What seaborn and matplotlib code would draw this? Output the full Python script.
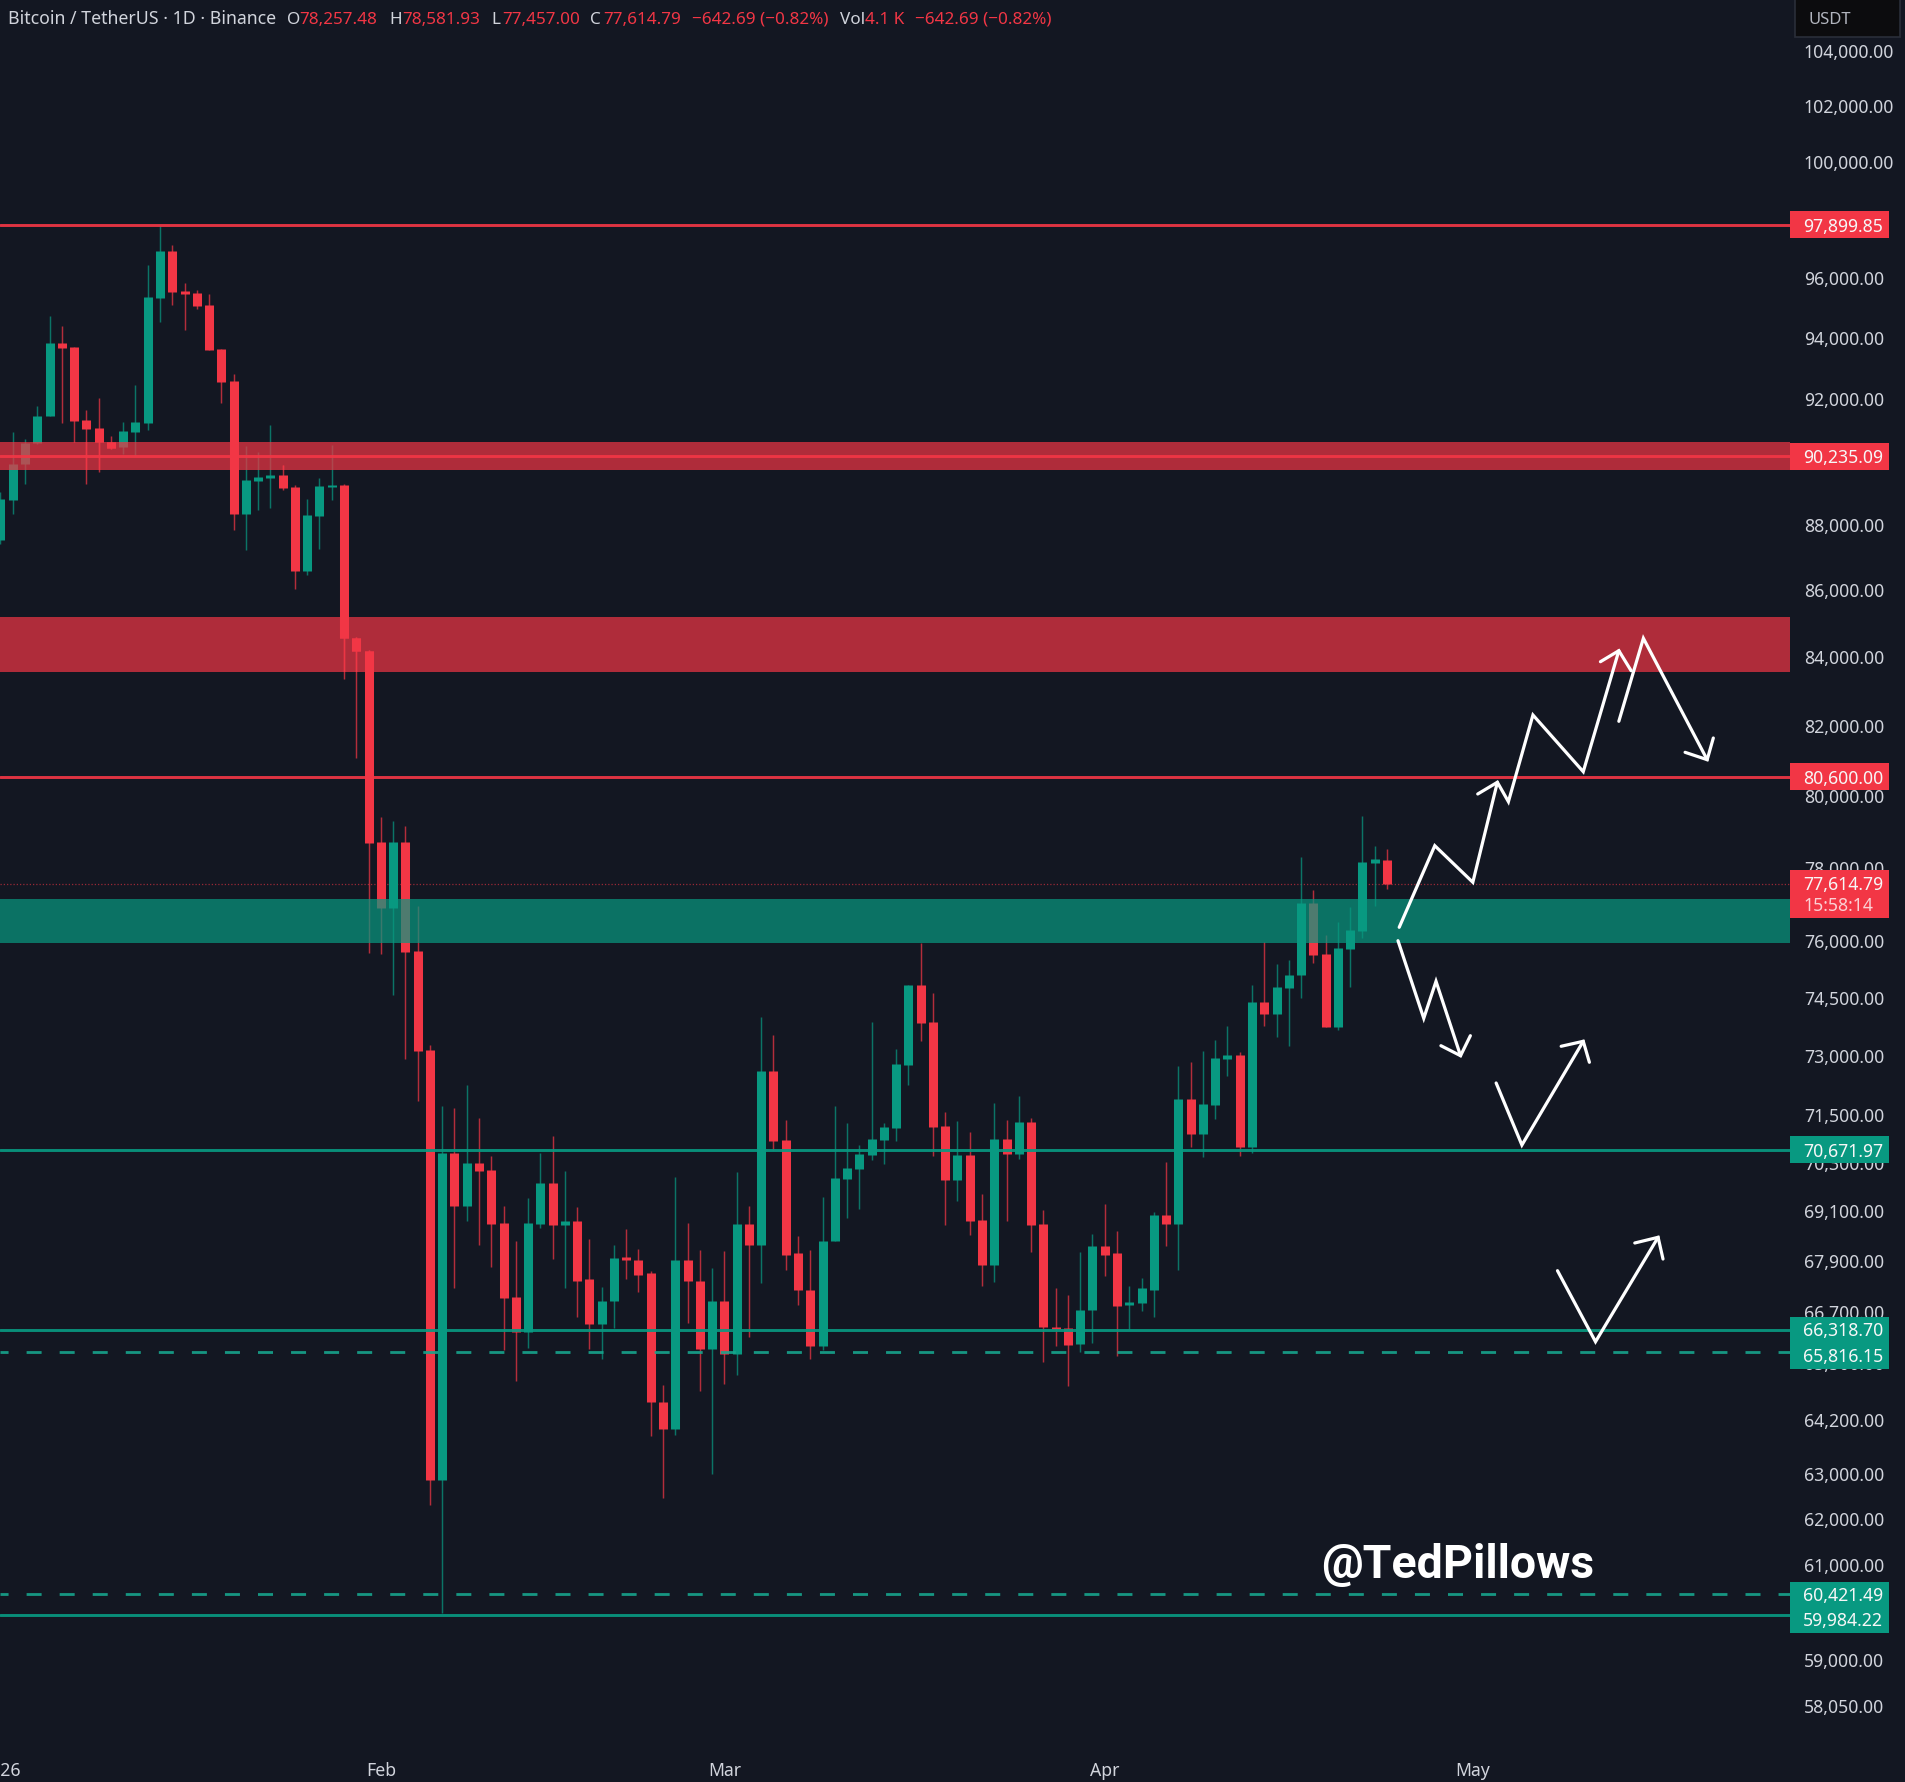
import numpy as np, pandas as pd
import matplotlib
matplotlib.use("Agg")
import matplotlib.pyplot as plt
from matplotlib.patches import Rectangle
from matplotlib.transforms import ScaledTranslation
import seaborn as sns

# ------- data --------------------------------------------------------------
high = [89090,90993,90780,91831,94812,94456,93760,91712,92090,90865,91314,92534,96519,97844,97213,95909,95684,95549,93705,92883,90567,90375,91239,89952,89320,88880,89530,90588,89351,84652,84285,79451,79356,79207,77006,73325,71766,71715,
        72299,71463,70518,69286,68432,69482,70577,71006,70133,69245,68492,67322,68326,68717,68244,67708,65049,70005,68867,68227,67775,68203,70106,69269,74060,73584,71420,68560,68220,69513,71773,71330,70794,73914,71330,73222,74892,76000,
        74681,71622,71380,71104,69582,71834,71405,72027,71456,69191,67301,67142,68174,68594,69323,68666,67363,67553,69142,70356,72777,72880,73163,73447,73810,73137,74900,76027,75448,75547,78339,77449,76223,76565,76971,79479,78660,78581.93]
body_top = [88880,89983,90641,91529,93892,93892,93760,91379,91121,90673,91025,91314,95426,96985,96985,95628,95561,95157,93694,92643,89467,89562,89635,89625,89247,88370,89278,89320,89320,84642,84255,78754,78754,78762,75794,73196,70577,70577,
            70329,70329,70158,68860,67085,68860,69835,69835,68909,68909,67510,67005,68028,68038,67987,67658,64665,67987,67987,67486,66989,66989,68833,68833,72664,72664,70911,68136,67272,68444,69961,70208,70555,70929,71229,72828,74892,74892,
            73914,71254,70530,70530,68933,70929,70929,71355,71362,68836,66396,66373,66795,68304,68304,68136,66970,67301,69055,69055,71936,71936,71809,72982,73059,73059,74437,74437,74831,75164,77079,77079,75706,75867,76349,78201,78283,78257.48]
body_bottom = [87616,88849,89983,90641,91518,93738,91368,91100,90673,90492,90513,90993,91293,95404,95606,95527,95135,93672,92621,88412,88412,89446,89541,89215,86654,86654,88350,89257,84642,84245,78734,76952,76952,75768,73178,62905,62905,69269,
               69269,70133,68833,67071,66268,66268,68833,68809,68819,67486,66455,66455,66996,67971,67627,64649,64039,64039,67470,65867,65867,65756,65756,68326,68326,70876,68102,67258,65956,65956,68425,69936,70183,70530,70904,71204,72803,73888,
               71229,69911,69911,68909,67849,67849,70555,70555,68812,66382,66350,65977,65986,66781,68102,66890,66899,66946,67268,68836,68836,71054,71054,71791,72964,70729,70729,74123,74123,74805,75156,75680,73784,73784,75840,76322,78182,77614.79]
low = [87482,88412,89351,90620,91518,91293,90673,89351,89720,90460,90301,90248,91079,94589,95169,94334,95035,93672,91938,87915,87298,88537,88589,89173,86106,86542,87328,88839,83418,81128,75741,75714,74628,72964,71900,62345,60025,67299,
       68916,68326,67808,65844,65129,65907,68746,68011,67299,66631,65867,65645,66366,67527,67216,63899,62512,63915,66485,64916,63029,65065,65271,66165,67420,70662,67748,66915,65645,65844,68425,68982,69208,70406,70307,70879,72291,73421,
       70505,68812,69396,68584,67363,67443,68923,70438,68160,65569,65939,65030,65814,66009,67586,65721,66343,66772,66617,68304,67743,70729,70480,71430,72521,70505,70587,73810,73524,73307,74542,75475,73784,73722,74831,76134,77014,77457.00]
is_up = [int(c) for c in "111110000011110000001110011100001000101000011010011000010010101000011111111000100101000011001110101110101110011110"]

resistance_lines = [97899.85, 90235.09, 80600.00]
support_lines = [70671.97, 66318.70, 59984.22]
support_dashed = [65816.15, 60421.49]
last_price = 77614.79
red_zones = [(89795, 90685), (83625, 85260)]
green_zones = [(76010, 77190)]

price_ticks = [104000,102000,100000,98000,96000,94000,92000,90000,88000,86000,84000,82000,80000,78000,76000,74500,73000,71500,70300,69100,67900,66700,65500,64200,63000,62000,61000,59000,58050]
date_pos = [0, 31, 59, 90, 120]
date_labels = ["2026", "Feb", "Mar", "Apr", "May"]

arrow_path = [0,0,0,0,1,1,1,1,1,1,2,2,2,3,3,3,4,4,4,5,5,5,5,6,6,6,7,7,7,8,8,8,9,9,9,10,10,10]
arrow_x = [114.0,116.9,120.0,122.0,120.4,122.0,122.9,124.9,129.0,131.9,130.4,131.9,132.9,131.9,133.9,139.1,137.3,139.1,139.6,113.9,116.0,117.0,119.0,117.4,119.0,119.8,121.9,124.0,129.0,127.2,129.0,129.5,126.9,130.0,135.1,133.2,135.1,135.5]
arrow_y = [76430,78660,77652,80437,80106,80437,79889,82367,80738,84254,83928,84254,83663,82184,84623,81080,81291,81080,81702,76070,74018,74990,73049,73307,73049,73566,72350,70786,73421,73292,73421,72880,67720,66046,68521,68384,68521,67999]

# ------- style ---------------------------------------------------------------
BG, RED, GREEN, FG = "#131722", "#f23645", "#089981", "#d1d4dc"
W, H = 1905, 1783
AX_RIGHT, AX_BOTTOM = 1790, 1750
sns.set_theme(style="dark", rc={"figure.facecolor": BG, "axes.facecolor": BG, "savefig.facecolor": BG,
                                "axes.grid": False, "xtick.color": FG, "ytick.color": FG})
plt.rcParams["font.family"] = ["Noto Sans", "DejaVu Sans"]

fig = plt.figure(figsize=(W/100, H/100), dpi=100)
ax = fig.add_axes([0, (H-AX_BOTTOM)/H, AX_RIGHT/W, AX_BOTTOM/H])
ax.set_yscale("log")
PX_PER_LN = 2838.0
ax.set_ylim(97899.85*np.exp(-(AX_BOTTOM-225.7)/PX_PER_LN), 97899.85*np.exp(225.7/PX_PER_LN))
ax.set_xlim(-0.037, 145.85)

candles = pd.DataFrame(dict(i=np.arange(len(high)), high=high, top=body_top, bottom=body_bottom, low=low, up=is_up))

def draw(sub, zorder, clip=None):
    col = GREEN if sub["up"].iloc[0] else RED
    wick = sub.melt(id_vars="i", value_vars=["high", "low"], value_name="price").sort_values("i")
    body = sub.melt(id_vars="i", value_vars=["top", "bottom"], value_name="price").sort_values("i")
    n = len(ax.lines)
    sns.lineplot(data=wick, x="i", y="price", units="i", estimator=None, sort=False, color=col, alpha=0.72,
                 linewidth=1.05, solid_capstyle="butt", zorder=zorder, legend=False, ax=ax)
    sns.lineplot(data=body, x="i", y="price", units="i", estimator=None, sort=False, color=col,
                 linewidth=6.5, solid_capstyle="butt", zorder=zorder, legend=False, ax=ax)
    if clip is not None:
        r = Rectangle((-1, clip[0]), 200, clip[1]-clip[0], transform=ax.transData)
        for ln in ax.lines[n:]:
            ln.set_clip_path(r)

reds = candles[candles.up == 0]
greens = candles[candles.up == 1]
draw(reds, 2)
for lo, hi in green_zones:
    ax.axhspan(lo, hi, color=GREEN, alpha=0.7, lw=0, zorder=3)
draw(greens, 4)
for lo, hi in red_zones:
    ax.axhspan(lo, hi, color=RED, alpha=0.7, lw=0, zorder=5)
for lo, hi in red_zones:
    draw(reds, 6, clip=(lo, hi))

for p in resistance_lines:
    ax.axhline(p, color=RED, lw=2.1, alpha=0.92, zorder=7)
for p in support_lines:
    ax.axhline(p, color=GREEN, lw=2.1, alpha=0.92, zorder=7)
for p in support_dashed:
    ax.axhline(p, color="#17a58d", lw=2.0, alpha=0.9, zorder=7, linestyle=(2.5, (5.4, 6.5)))
ax.axhline(last_price, color=RED, lw=0.9, alpha=0.6, linestyle=(0, (1, 1.6)), zorder=1)

arrows = pd.DataFrame(dict(path=arrow_path, x=arrow_x, y=arrow_y))
sns.lineplot(data=arrows, x="x", y="y", units="path", estimator=None, sort=False, color="white",
             linewidth=2.3, solid_capstyle="round", solid_joinstyle="miter", zorder=8, legend=False, ax=ax)

ax.set_xlabel(""); ax.set_ylabel("")
for s in ax.spines.values():
    s.set_visible(False)
ax.yaxis.tick_right()
ax.set_yticks(price_ticks)
ax.set_yticklabels([f"{t:,.2f}" for t in price_ticks], fontsize=12.7, color=FG)
ax.yaxis.set_minor_locator(matplotlib.ticker.NullLocator())
ax.tick_params(axis="y", which="both", length=0, pad=10)
ax.set_xticks(date_pos)
ax.set_xticklabels(date_labels, fontsize=12.7, color=FG)
ax.tick_params(axis="x", length=0, pad=9)
up_shift = ScaledTranslation(0, 3/100, fig.dpi_scale_trans)
for t in ax.get_yticklabels():
    t.set_transform(t.get_transform() + up_shift)
for t in ax.get_xticklabels() + ax.get_yticklabels():
    t.set_clip_on(False)

# ------- price-scale label boxes ---------------------------------------------
def py(price):
    return H - ax.transData.transform((0, price))[1]

def box(y0, y1, color, x0=1790, x1=1889):
    fig.add_artist(Rectangle((x0/W, 1-y1/H), (x1-x0)/W, (y1-y0)/H, transform=fig.transFigure,
                             facecolor=color, edgecolor="none", zorder=5))

def label(txt, y, color="#f7f7f7", x=1883, ha="right", size=12.7, **kw):
    fig.text(x/W, 1-y/H, txt, ha=ha, va="center", fontsize=size, color=color, zorder=6, **kw)

for p, c in [(97899.85, RED), (90235.09, RED), (80600.00, RED), (70671.97, GREEN)]:
    y = py(p)
    box(y-13.5, y+13.5, c)
    label(f"{p:,.2f}", y+1)
box(871, 919, RED)
label("77,614.79", 885.5)
label("15:58:14", 906.5, color="#fbd0d4", x=1873)
box(1317.5, 1370, GREEN)
label("66,318.70", 1331.5)
label("65,816.15", 1357.5)
box(1582.5, 1634, GREEN)
label("60,421.49", 1596.5)
label("59,984.22", 1621.5)

# USDT selector
fig.add_artist(Rectangle((1795/W, 1-38/H), 105/W, 44/H, transform=fig.transFigure, facecolor="#0c0c0e",
                         edgecolor="#2a2e39", lw=1.2, zorder=5))
label("USDT", 20, color="#b2b5be", x=1809, ha="left", size=12)

# Header legend
head = [("Bitcoin / TetherUS · 1D · Binance", 8, FG, 12.75), ("O", 287, FG, 12.3), ("78,257.48", 299, RED, 12.3),
        ("H", 389, FG, 12.3), ("78,581.93", 402, RED, 12.3), ("L", 491, FG, 12.3), ("77,457.00", 502, RED, 12.3),
        ("C", 590, FG, 12.3), ("77,614.79", 603, RED, 12.3), ("\u2212642.69 (\u22120.82%)", 692, RED, 12.3),
        ("Vol", 840, FG, 12.3), ("4.1 K", 865, RED, 12.3), ("\u2212642.69 (\u22120.82%)", 915, RED, 12.3)]
for txt, x, c, s in head:
    label(txt, 19.5, color=c, x=x, ha="left", size=s)

fig.text(1321/W, 1-1578/H, "@TedPillows", fontsize=33.5, color="white", ha="left", va="baseline",
         family="Roboto", fontweight="bold", zorder=6)

fig.savefig("out.png", dpi=100)
